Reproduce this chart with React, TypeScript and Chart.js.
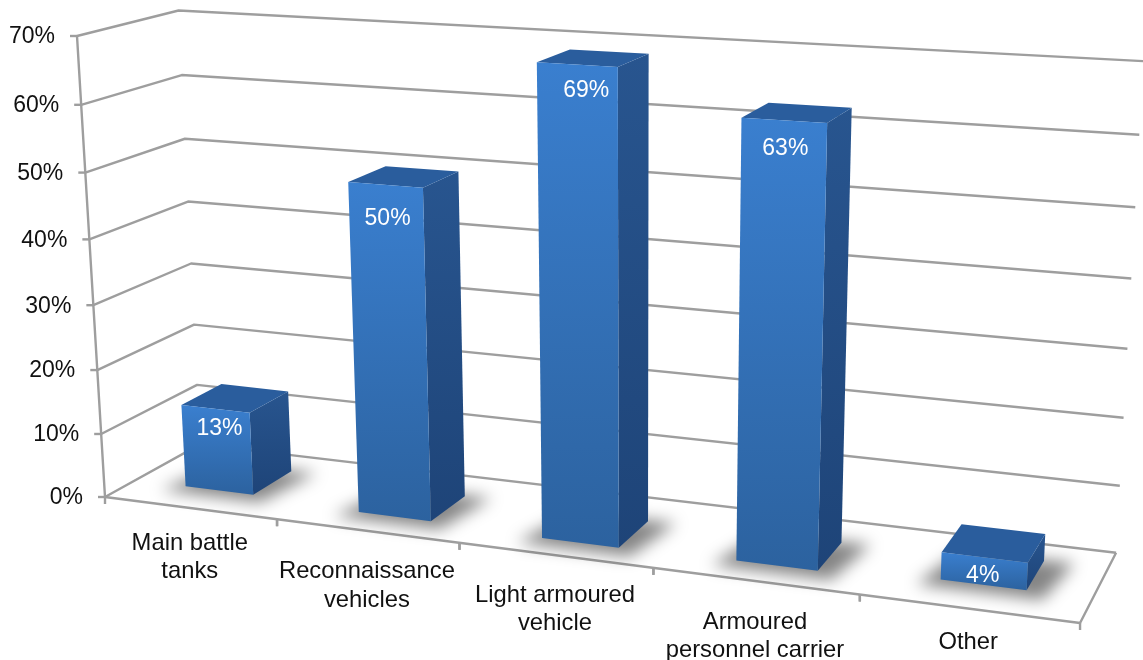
import React, { useEffect, useRef } from "react";
import { Chart, registerables } from "chart.js";

Chart.register(...registerables);

const categories = [
  ["Main battle", "tanks"],
  ["Reconnaissance", "vehicles"],
  ["Light armoured", "vehicle"],
  ["Armoured", "personnel carrier"],
  ["Other"],
];
const shares = [13, 50, 69, 63, 4];
const axisMax = 70;
const axisStep = 10;

type Pt = [number, number];

// Camera matrix of the 3D box: columns are u (categories), w (depth), v (value), constant.
const CAM_X = [820.6, 109, -31.85, 105];
const CAM_Y = [36.9, -21.5, -462.8, 497];
const CAM_D = [-0.143, 0.07, -0.05, 1];
// Slight twist of the upper walls (u*v and w*v terms of the vertical coordinate).
const CAM_TWIST = [6, -2];

const DEPTH_FRONT = 0.25;
const DEPTH_BACK = 0.68;

// Per-column placement on the floor.
const BAR_DEPTH_NUDGE = [0.06, 0, -0.04, -0.01, 0.08];
const BAR_SHIFT = [0, 0.007, 0.01, 0.007, 0];

const GRID = "#9e9e9e";
const AXIS_FONT = '23px "Liberation Sans", Arial, sans-serif';
const CATEGORY_FONT = '23.8px "Liberation Sans", Arial, sans-serif';

// Per-category fine adjustments for the text placement.
const CATEGORY_DROP = [35, 41, 40, 41, 34];
const VALUE_DROP = [19, 33, 25, 27, 17];
const VALUE_SHIFT = [4, 2, 9, 1, -2];
const TEXT_RAISE = 1;

// u: along the category axis, w: into the depth, v: up the value axis (all 0..1).
function project(u: number, w: number, v: number): Pt {
  const dot = (m: number[]) => m[0] * u + m[1] * w + m[2] * v + m[3];
  const d = dot(CAM_D);
  const twist = CAM_TWIST[0] * u * v + CAM_TWIST[1] * w * v;
  return [dot(CAM_X) / d, (dot(CAM_Y) + twist) / d];
}

function polygon(ctx: CanvasRenderingContext2D, pts: Pt[]) {
  ctx.beginPath();
  pts.forEach((p, i) => (i ? ctx.lineTo(p[0], p[1]) : ctx.moveTo(p[0], p[1])));
  ctx.closePath();
}

function stroke(ctx: CanvasRenderingContext2D, pts: Pt[]) {
  ctx.beginPath();
  pts.forEach((p, i) => (i ? ctx.lineTo(p[0], p[1]) : ctx.moveTo(p[0], p[1])));
  ctx.stroke();
}

const perspectivePlugin = {
  id: "perspective",
  afterDatasetsDraw(chart: any) {
    const { ctx, chartArea: area, scales } = chart;
    const { x: xs, y: ys } = scales;
    const toU = (px: number) => (px - area.left) / (area.right - area.left);
    const toV = (px: number) => (area.bottom - px) / (area.bottom - area.top);

    ctx.save();
    ctx.lineWidth = 2.4;
    ctx.strokeStyle = GRID;
    ctx.lineJoin = "round";
    ctx.lineCap = "butt";

    // Walls: each value gridline runs along the left wall, then the back wall.
    ys.ticks.forEach((t: any) => {
      const v = toV(ys.getPixelForValue(t.value));
      stroke(ctx, [project(0, 0, v), project(0, 1, v), project(1, 1, v)]);
      const p = project(0, 0, v);
      stroke(ctx, [[p[0] - 7, p[1]], p]);
    });
    // Value axis and the floor outline.
    stroke(ctx, [project(0, 0, 1), project(0, 0, 0), project(1, 0, 0), project(1, 1, 0)]);

    // Category separators below the front edge.
    categories.forEach((_, i) => {
      [i - 0.5, i + 0.5].forEach((c) => {
        const p = project(toU(xs.getPixelForValue(c)), 0, 0);
        stroke(ctx, [p, [p[0], p[1] + 7]]);
      });
    });

    // Value axis labels follow the slanted axis.
    ctx.font = AXIS_FONT;
    ctx.fillStyle = "#111111";
    ctx.textBaseline = "middle";
    ctx.textAlign = "right";
    ys.ticks.forEach((t: any) => {
      const p = project(0, 0, toV(ys.getPixelForValue(t.value)));
      ctx.fillText(t.label, p[0] - 22, p[1] + TEXT_RAISE);
    });

    // Category labels hang under the sloping front edge.
    ctx.font = CATEGORY_FONT;
    ctx.textAlign = "center";
    categories.forEach((lines, i) => {
      const p = project(toU(xs.getPixelForValue(i)), 0, 0);
      lines.forEach((line, k) => {
        ctx.fillText(line, p[0], p[1] + CATEGORY_DROP[i] + k * 28.5);
      });
    });

    // Columns, each from its own bar element.
    ctx.font = AXIS_FONT;
    const bars = chart.getDatasetMeta(0).data;
    bars.forEach((bar: any, i: number) => {
      const u0 = toU(bar.x - bar.width / 2) + BAR_SHIFT[i];
      const u1 = toU(bar.x + bar.width / 2) + BAR_SHIFT[i];
      const v = toV(bar.y);
      const w0 = DEPTH_FRONT + BAR_DEPTH_NUDGE[i];
      const w1 = DEPTH_BACK + BAR_DEPTH_NUDGE[i];

      // Soft contact shadow on the floor.
      ctx.save();
      ctx.filter = "blur(8px)";
      ctx.fillStyle = "rgba(0,0,0,0.48)";
      polygon(ctx, [
        project(u0 - 0.018, w0 - 0.1, 0),
        project(u1 + 0.018, w0 - 0.1, 0),
        project(u1 + 0.028, w1 + 0.02, 0),
        project(u0, w1, 0),
      ]);
      ctx.fill();
      ctx.restore();

      const fl = project(u0, w0, v), fr = project(u1, w0, v);
      const bl = project(u0, w1, v), br = project(u1, w1, v);
      const gl = project(u0, w0, 0), gr = project(u1, w0, 0), gb = project(u1, w1, 0);

      const side = ctx.createLinearGradient(0, Math.min(fr[1], br[1]), 0, gr[1]);
      side.addColorStop(0, "#28558f");
      side.addColorStop(1, "#1e4478");
      ctx.fillStyle = side;
      polygon(ctx, [fr, br, gb, gr]);
      ctx.fill();

      ctx.fillStyle = "#2a5d9d";
      polygon(ctx, [fl, fr, br, bl]);
      ctx.fill();

      const face = ctx.createLinearGradient(0, Math.min(fl[1], fr[1]), 0, gr[1]);
      face.addColorStop(0, "#3a7fcf");
      face.addColorStop(1, "#2c629f");
      ctx.fillStyle = face;
      polygon(ctx, [fl, fr, gr, gl]);
      ctx.fill();

      ctx.fillStyle = "#ffffff";
      ctx.textAlign = "center";
      ctx.fillText(
        `${shares[i]}%`,
        (fl[0] + fr[0]) / 2 + VALUE_SHIFT[i],
        (fl[1] + fr[1]) / 2 + VALUE_DROP[i] + TEXT_RAISE
      );
    });
    ctx.restore();
  },
};

export default function App() {
  const ref = useRef<HTMLCanvasElement | null>(null);

  useEffect(() => {
    document.body.style.margin = "0";
    const chart = new Chart(ref.current as HTMLCanvasElement, {
      type: "bar",
      data: {
        labels: categories.map((c) => c.join(" ")),
        datasets: [
          {
            data: shares,
            backgroundColor: "transparent",
            barPercentage: 0.4,
            categoryPercentage: 1,
          },
        ],
      },
      options: {
        responsive: false,
        animation: false,
        layout: { padding: { left: 105, right: 63, top: 36, bottom: 163 } },
        plugins: { legend: { display: false }, tooltip: { enabled: false } },
        scales: {
          x: { display: false },
          y: {
            display: false,
            min: 0,
            max: axisMax,
            ticks: { stepSize: axisStep, callback: (v: any) => `${v}%` },
          },
        },
      },
      plugins: [perspectivePlugin],
    } as any);
    return () => chart.destroy();
  }, []);

  return <canvas ref={ref} width={1143} height={660} style={{ display: "block" }} />;
}
